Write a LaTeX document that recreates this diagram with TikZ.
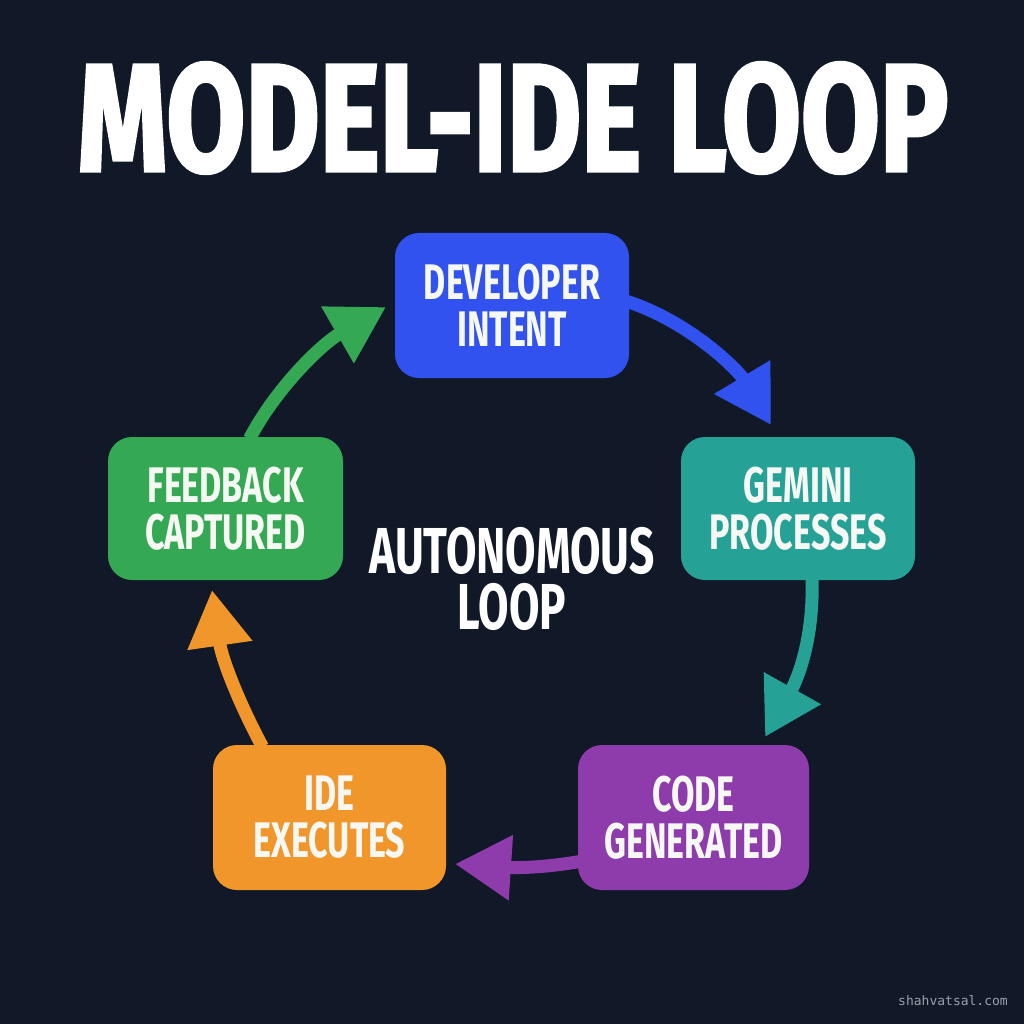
\documentclass[tikz,border=0pt]{standalone}
\usepackage{fontspec}
\usetikzlibrary{arrows.meta,calc}
\newfontfamily\boxfont[FakeStretch=0.68]{Fira Sans}
\newfontfamily\titlefont[FakeBold=2.5]{Fira Sans}
\newfontfamily\wmfont{DejaVu Sans Mono}
\definecolor{bg}{HTML}{111828}
\definecolor{cblue}{HTML}{3152EE}
\definecolor{cteal}{HTML}{26A196}
\definecolor{cpurple}{HTML}{8E3BAB}
\definecolor{corange}{HTML}{F0962A}
\definecolor{cgreen}{HTML}{34A853}
\definecolor{boxtext}{HTML}{F6F8F4}
\definecolor{wm}{HTML}{9AA0AA}
\tikzset{
  stage/.style={rounded corners=24pt, inner sep=0pt, align=center, text=boxtext,
    font=\boxfont\bfseries\fontsize{50}{47}\selectfont},
  centertext/.style={text=white, inner sep=0pt, font=\boxfont\bfseries\fontsize{65}{65}\selectfont},
  flow/.style={line width=13pt, -{Triangle[length=56pt,width=62pt]}},
}
\begin{document}
\begin{tikzpicture}[x=1pt,y=-1pt]
\fill[bg] (0,0) rectangle (1024,1024);
\useasboundingbox (0,0) rectangle (1024,1024);

\node[text=white] (title) at (513,118)
  {\resizebox{870pt}{108pt}{\titlefont\bfseries MODEL-IDE LOOP}};

\node[stage, fill=cblue, minimum width=234pt, minimum height=145pt] (dev) at (512,305.5) {DEVELOPER\\INTENT};
\node[stage, fill=cteal, minimum width=234pt, minimum height=143pt] (gem) at (798,508.5) {GEMINI\\PROCESSES};
\node[stage, fill=cpurple, minimum width=231pt, minimum height=145pt] (code) at (693.5,817.5) {CODE\\GENERATED};
\node[stage, fill=corange, minimum width=233pt, minimum height=145pt] (ide) at (329.5,817.5) {IDE\\EXECUTES};
\node[stage, fill=cgreen, minimum width=235pt, minimum height=143pt] (fb) at (225.5,508.5) {FEEDBACK\\CAPTURED};

\node[centertext] (center1) at (512,550.5) {AUTONOMOUS};
\node[centertext] (center2) at (512,606.5) {LOOP};

\node[text=wm, font=\wmfont\fontsize{13}{15}\selectfont] (mark) at (953,1001) {shahvatsal.com};

\coordinate (tipA) at (771,425);
\coordinate (tipB) at (765,737);
\coordinate (tipC) at (455,864);
\coordinate (tipD) at (212,590);
\coordinate (tipE) at (386,307);

\draw[flow, cblue] ($(dev.east)+(-2,-4)$) .. controls (690,322) and (738,370) .. (tipA);
\draw[flow, cteal] ($(gem.south)+(14,-2)$) .. controls (814,640) and (797,680) .. (tipB);
\draw[flow, cpurple] ($(code.west)+(2,44)$) .. controls (530,870) and (500,867) .. (tipC);
\draw[flow, corange] ($(ide.north)+(-67,2)$) .. controls (240,705) and (222,660) .. (tipD);
\draw[flow, cgreen] ($(fb.north)+(24,2)$) .. controls (275,390) and (320,345) .. (tipE);
\end{tikzpicture}
\end{document}
